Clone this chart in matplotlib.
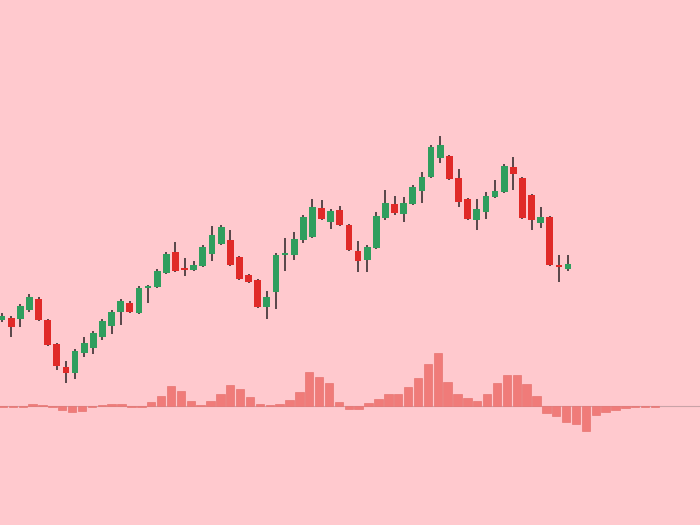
import numpy as np
import matplotlib.pyplot as plt

# candle data (price units, higher = up)
opens = [180, 182, 181, 190, 201, 180, 156, 133, 127, 147, 152, 163, 174, 188, 197, 187, 212, 213,
         227, 248, 232, 230, 234, 246, 256, 260, 243, 225, 220, 193, 208, 245, 245, 260, 263, 292,
         278, 290, 275, 249, 240, 252, 282, 296, 286, 296, 309, 323, 342, 344, 322, 301, 280, 288,
         303, 308, 333, 322, 305, 277, 283, 235, 231]
highs = [187, 184, 196, 206, 203, 181, 157, 139, 151, 163, 169, 181, 190, 201, 199, 214, 215, 231,
         248, 258, 242, 239, 255, 274, 275, 270, 244, 226, 221, 209, 247, 262, 268, 285, 301, 300,
         291, 294, 276, 259, 255, 288, 310, 304, 303, 315, 328, 355, 364, 345, 331, 302, 301, 308,
         320, 336, 343, 323, 306, 293, 284, 245, 245]
lows = [178, 163, 173, 188, 179, 154, 130, 117, 121, 143, 146, 160, 166, 175, 187, 186, 197, 212,
        226, 228, 224, 229, 233, 239, 255, 234, 220, 217, 192, 181, 191, 229, 240, 257, 262, 280,
        271, 274, 249, 228, 228, 251, 280, 285, 278, 295, 297, 322, 337, 320, 293, 280, 270, 281,
        302, 307, 310, 281, 270, 272, 234, 218, 229]
closes = [184, 173, 194, 203, 180, 155, 134, 127, 149, 157, 167, 179, 188, 199, 188, 212, 214, 229,
          246, 229, 230, 235, 253, 265, 273, 235, 221, 218, 193, 203, 245, 247, 261, 283, 293, 281,
          289, 275, 250, 239, 253, 284, 297, 287, 297, 313, 323, 353, 355, 321, 298, 281, 291, 304,
          309, 334, 326, 282, 280, 283, 235, 233, 236]

# histogram values
hist = [-2, -3, -2, 7, 3, -2, -12, -19, -15, -4, 3, 7, 7, -2, -2, 12, 31, 60, 46, 16, 4, 15, 36,
        63, 50, 28, 6, 3, 6, 17, 41, 101, 88, 68, 13, -10, -8, 8, 20, 35, 35, 56, 83, 126, 158, 73,
        36, 23, 16, 35, 68, 93, 93, 66, 30, -22, -30, -47, -55, -75, -27, -19, -12, -6, -4, -3, -2]

bg = '#ffc9ce'
up_col = '#2f9e5e'
down_col = '#e02a28'
wick_col = '#4a3c3e'
bar_col = '#f07b79'

fig = plt.figure(figsize=[7, 5.25], dpi=100)
fig.patch.set_facecolor(bg)

ax = fig.add_axes([0, 0, 1, 1])
ax.set_facecolor(bg)
x = np.arange(len(opens))
o = np.array(opens)
c = np.array(closes)
cols = [up_col if cc >= oo else down_col for oo, cc in zip(o, c)]
ax.vlines(x, lows, highs, color=wick_col, linewidth=1.3, zorder=2)
body = np.where(np.abs(c - o) < 1.5, 1.5 * np.sign(c - o + 0.01), c - o)
ax.bar(x, body, bottom=o, width=0.74, color=cols, zorder=3)
ax.set_xlim(-0.22, 76.45)
ax.set_ylim(-25, 500)
ax.axis('off')

ax2 = fig.add_axes([0, 0, 1, 1])
ax2.patch.set_alpha(0)
hx = np.arange(len(hist))
ax2.axhline(0, color='#c9a3a8', linewidth=0.8, zorder=1)
ax2.bar(hx, hist, width=0.85, color=bar_col, edgecolor='#e77572', linewidth=0.5, zorder=2)
ax2.set_xlim(-0.304, 70.55)
ax2.set_ylim(-357, 1218)
ax2.axis('off')

plt.savefig('out.png', dpi=100, facecolor=bg)
